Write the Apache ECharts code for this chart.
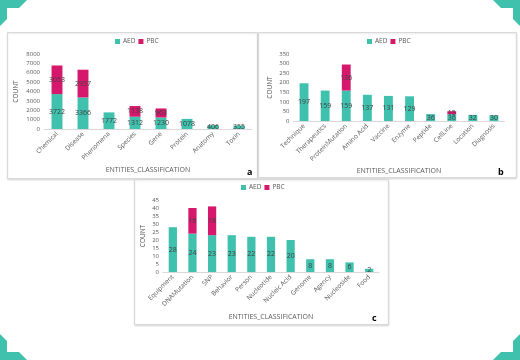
<!DOCTYPE html>
<html><head><meta charset="utf-8">
<script src="https://cdn.jsdelivr.net/npm/echarts@6/dist/echarts.min.js"></script>
<style>html,body{margin:0;padding:0;background:#fff}#c{width:520px;height:360px}</style>
</head><body><div id="c"></div>
<script>
const catsA = ['Chemical','Disease','Phenomena','Species','Gene','Protein','Anatomy','Toxin'];
const aedA = [3722,3366,1772,1312,1230,1078,406,355];
const pbcA = [3053,2957,null,1138,963,null,null,null];
const catsB = ['Technique','Therapeutics','ProteinMutation','Amino Acid','Vaccine','Enzyme','Peptide','CellLine','Location','Diagnosis'];
const aedB = [197,159,159,137,131,129,36,36,32,30];
const pbcB = [null,null,136,null,null,null,null,15,null,null];
const catsC = ['Equipment','DNAMutation','SNP','Behavior','Person','Nucleotide','Nucleic Acid','Genome','Agency','Nucleoside','Food'];
const aedC = [28,24,23,23,22,22,20,8,8,6,2];
const pbcC = [null,16,18,null,null,null,null,null,null,null,null];
const yMax = [8000,350,45];
const yInt = [1000,50,5];

const TEAL = '#3fc1ad', MAG = '#d6186d';
const FONT = 'Open Sans';
const chart = echarts.init(document.getElementById('c'));
const grids = [
  {left:44, top:54, width:208, height:75},
  {left:293.5, top:54, width:211, height:67},
  {left:163, top:200, width:216, height:72}
];
const cats = [catsA,catsB,catsC];
const aed = [aedA,aedB,aedC];
const pbc = [pbcA,pbcB,pbcC];
const yNameGap = [24,20,16];
const xNameGap = [37,46,41];
const legendPos = [{left:115,top:38},{left:367,top:38},{left:241,top:184}];

const xAxis = [], yAxis = [], series = [], legend = [];
for (let i=0;i<3;i++){
  xAxis.push({type:'category', gridIndex:i, data:cats[i],
    axisLine:{lineStyle:{color:'#d9d9d9'}}, axisTick:{show:false},
    axisLabel:{rotate:45, fontSize:6.5, color:'#595959', fontFamily:FONT, margin:4, interval:0},
    name:'ENTITIES_CLASSIFICATION', nameLocation:'middle', nameGap:xNameGap[i],
    nameTextStyle:{fontSize:7, color:'#595959', fontFamily:FONT}});
  yAxis.push({type:'value', gridIndex:i, min:0, max:yMax[i], interval:yInt[i],
    splitLine:{show:false}, axisLine:{show:false}, axisTick:{show:false},
    axisLabel:{fontSize:6, color:'#595959', fontFamily:FONT, margin:4, formatter:(v)=>String(v)},
    name:'COUNT', nameLocation:'middle', nameGap:yNameGap[i], nameRotate:90,
    nameTextStyle:{fontSize:6.5, color:'#595959', fontFamily:FONT}});
  const lbl = {show:true, position:'inside', fontSize:7, color:'#404040', fontFamily:FONT};
  series.push({type:'bar', name:'AED', xAxisIndex:i, yAxisIndex:i, stack:'s'+i, data:aed[i],
    barWidth:'42%', itemStyle:{color:TEAL}, label:lbl});
  series.push({type:'bar', name:'PBC', xAxisIndex:i, yAxisIndex:i, stack:'s'+i, data:pbc[i],
    barWidth:'42%', itemStyle:{color:MAG}, label:lbl});
  legend.push({data:['AED','PBC'], left:legendPos[i].left, top:legendPos[i].top,
    itemWidth:5, itemHeight:5, itemGap:3, icon:'rect', padding:0,
    textStyle:{fontSize:6.5, color:'#595959', fontFamily:FONT, padding:[0,0,0,-2]}, selectedMode:false});
}

const bracket = (pts)=>({type:'polygon', shape:{points:pts}, style:{fill:TEAL}, z:10});
const panel = (x,y,w,h)=>({type:'rect', shape:{x:x,y:y,width:w,height:h},
  style:{fill:'#fff', stroke:'#d9d9d9', lineWidth:1, shadowBlur:2, shadowColor:'rgba(0,0,0,0.12)', shadowOffsetY:1}, z:-10});
const tag = (t,x,y)=>({type:'text', style:{text:t, x:x, y:y, font:'bold 9px "'+FONT+'"', fill:'#000'}, z:10});

chart.setOption({
  animation:false,
  textStyle:{fontFamily:FONT},
  grid:grids, xAxis:xAxis, yAxis:yAxis, series:series, legend:legend,
  graphic:[
    panel(7.5,32.5,250,146),
    panel(258.5,32.5,258,145),
    panel(134.5,179.5,254,145),
    tag('a',247,168), tag('b',498,168), tag('c',372,314),
    bracket([[0,0],[27,0],[19,8],[7,8],[7,19],[0,26]]),
    bracket([[520,0],[493,0],[501,8],[513,8],[513,19],[520,26]]),
    bracket([[0,360],[27,360],[19,352],[7,352],[7,341],[0,334]]),
    bracket([[520,360],[493,360],[501,352],[513,352],[513,341],[520,334]])
  ]
});
</script>
</body></html>
